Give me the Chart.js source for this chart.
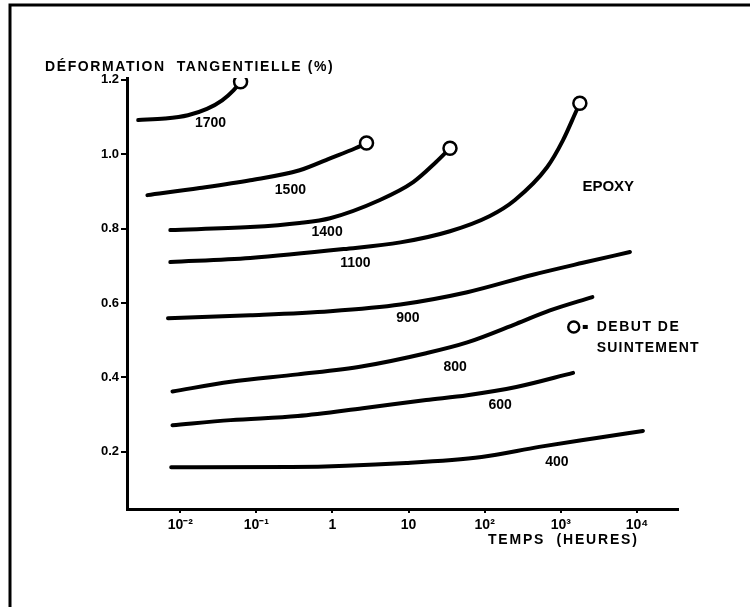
<!DOCTYPE html>
<html>
<head>
<meta charset="utf-8">
<script src="https://cdn.jsdelivr.net/npm/chart.js@4"></script>
<style>
  html, body { margin: 0; padding: 0; background: #fff; }
  #wrap { position: relative; width: 750px; height: 607px; }
</style>
</head>
<body>
<div id="wrap"><canvas id="myChart"></canvas></div>
<script>
// stress levels (curve labels)
var stressLabels = ["1700", "1500", "1400", "1100", "900", "800", "600", "400"];

// time (hours) and shear strain (%)
var t1700 = [0.0028, 0.0063, 0.0126, 0.0224, 0.0355, 0.050, 0.062];
var s1700 = [1.092, 1.096, 1.105, 1.122, 1.145, 1.172, 1.195];
var t1500 = [0.0037, 0.018, 0.083, 0.37, 0.93, 2.0, 2.8];
var s1500 = [0.890, 0.909, 0.930, 0.957, 0.989, 1.016, 1.030];
var t1400 = [0.0074, 0.083, 0.37, 0.93, 4.2, 11.5, 23, 35];
var s1400 = [0.796, 0.804, 0.815, 0.828, 0.877, 0.925, 0.979, 1.016];
var t1100 = [0.0074, 0.083, 1.4, 7.8, 35, 117, 250, 660, 1070, 1620, 1780];
var s1100 = [0.710, 0.721, 0.745, 0.763, 0.793, 0.834, 0.877, 0.965, 1.038, 1.119, 1.137];
var t900 = [0.0069, 0.083, 0.93, 7.8, 59, 430, 1950, 8100];
var s900 = [0.559, 0.567, 0.578, 0.596, 0.629, 0.676, 0.708, 0.737];
var t800 = [0.0079, 0.046, 0.35, 2.5, 17, 59, 260, 720, 2600];
var s800 = [0.362, 0.388, 0.408, 0.430, 0.465, 0.494, 0.544, 0.580, 0.616];
var t600 = [0.0079, 0.046, 0.35, 2.5, 17, 59, 260, 1450];
var s600 = [0.271, 0.285, 0.296, 0.317, 0.339, 0.352, 0.374, 0.412];
var t400 = [0.0076, 0.29, 9.3, 91, 520, 2950, 12000];
var s400 = [0.158, 0.159, 0.170, 0.186, 0.213, 0.237, 0.256];

// "debut de suintement" (start of seepage) points
var seepTimes = [0.062, 2.8, 35, 1780];
var seepStrain = [1.195, 1.030, 1.016, 1.137];

// axis ticks
var xTickValues = [0.01, 0.1, 1, 10, 100, 1000, 10000];
var xTickLabels = ["10\u207B\u00B2", "10\u207B\u00B9", "1", "10", "10\u00B2", "10\u00B3", "10\u2074"];
var yTickValues = [0.2, 0.4, 0.6, 0.8, 1.0, 1.2];
var yTickLabels = ["0.2", "0.4", "0.6", "0.8", "1.0", "1.2"];

// where the curve labels sit (time, strain)
var labelTimes = [0.025, 0.28, 0.85, 2.0, 9.8, 41, 160, 890];
var labelStrain = [1.083, 0.903, 0.790, 0.707, 0.559, 0.427, 0.326, 0.172];

var curveTimes = [t1700, t1500, t1400, t1100, t900, t800, t600, t400];
var curveStrain = [s1700, s1500, s1400, s1100, s900, s800, s600, s400];

function pts(xs, ys) {
  return xs.map(function (x, i) { return { x: x, y: ys[i] }; });
}

var FONT = "'Liberation Sans', Arial, sans-serif";
Chart.defaults.font.family = FONT;
Chart.defaults.color = "#000";

var datasets = curveTimes.map(function (xs, i) {
  return {
    label: stressLabels[i],
    data: pts(xs, curveStrain[i]),
    borderColor: "#000",
    borderWidth: 4,
    pointRadius: 0,
    fill: false,
    cubicInterpolationMode: "monotone",
    borderCapStyle: "round",
    order: 1
  };
});
datasets.push({
  label: "DEBUT DE SUINTEMENT",
  type: "scatter",
  data: pts(seepTimes, seepStrain),
  pointRadius: 6.5,
  pointBorderWidth: 2.5,
  pointBorderColor: "#000",
  pointBackgroundColor: "#fff",
  order: 0
});

function spaced(c, text, x, y, sp) {
  c.letterSpacing = sp + "px";
  c.fillText(text, x, y);
  c.letterSpacing = "0px";
}

var annotations = {
  id: "annotations",
  afterDatasetsDraw: function (chart) {
    var c = chart.ctx, xs = chart.scales.x, ys = chart.scales.y;
    c.save();
    c.fillStyle = "#000";
    c.textBaseline = "middle";
    c.textAlign = "center";
    c.font = "bold 14px " + FONT;
    stressLabels.forEach(function (lab, i) {
      c.fillText(lab, xs.getPixelForValue(labelTimes[i]), ys.getPixelForValue(labelStrain[i]));
    });
    c.font = "bold 15px " + FONT;
    c.fillText("EPOXY", xs.getPixelForValue(4200), ys.getPixelForValue(0.912));

    // legend for the open circle
    var lx = xs.getPixelForValue(1480), ly = ys.getPixelForValue(0.5355);
    c.beginPath();
    c.arc(lx, ly, 5.5, 0, Math.PI * 2);
    c.lineWidth = 2.5;
    c.strokeStyle = "#000";
    c.stroke();
    c.fillRect(lx + 9, ly - 2, 5, 4);
    c.textAlign = "left";
    c.font = "bold 14px " + FONT;
    spaced(c, "DEBUT DE", lx + 23, ly, 1.5);
    spaced(c, "SUINTEMENT", lx + 23, ly + 21, 1.2);

    // axis titles
    c.font = "bold 14px " + FONT;
    spaced(c, "D\u00C9FORMATION  TANGENTIELLE (%)", 45, 67, 1.6);
    spaced(c, "TEMPS  (HEURES)", 488, 540, 1.8);

    // page frame
    c.lineWidth = 3;
    c.beginPath();
    c.moveTo(10, 607);
    c.lineTo(10, 5);
    c.lineTo(750, 5);
    c.stroke();
    c.restore();
  }
};

var ctx = document.getElementById("myChart");

var myChart = new Chart(ctx, {
  type: "line",
  data: { datasets: datasets },
  options: {
    responsive: true,
    maintainAspectRatio: false,
    animation: false,
    layout: { padding: { top: 78, right: 72, bottom: 0, left: 0 } },
    plugins: {
      legend: { display: false },
      tooltip: { enabled: false }
    },
    scales: {
      x: {
        type: "logarithmic",
        min: Math.pow(10, -2.7),
        max: Math.pow(10, 4.54),
        afterBuildTicks: function (s) {
          s.ticks = xTickValues.map(function (v) { return { value: v }; });
        },
        afterFit: function (s) { s.height = 98; },
        ticks: {
          autoSkip: false,
          maxRotation: 0,
          padding: 4,
          font: { size: 14, weight: "bold" },
          callback: function (v) {
            var i = xTickValues.indexOf(v);
            return i >= 0 ? xTickLabels[i] : "";
          }
        },
        grid: { drawOnChartArea: false, drawTicks: true, tickLength: 4, color: "#000", lineWidth: 2 },
        border: { display: true, color: "#000", width: 3 }
      },
      y: {
        type: "linear",
        min: 0.046,
        max: 1.205,
        afterBuildTicks: function (s) {
          s.ticks = yTickValues.map(function (v) { return { value: v }; });
        },
        afterFit: function (s) { s.width = 127; },
        ticks: {
          padding: 2,
          font: { size: 13, weight: "bold" },
          callback: function (v) {
            var i = yTickValues.findIndex(function (t) { return Math.abs(t - v) < 1e-6; });
            return i >= 0 ? yTickLabels[i] : "";
          }
        },
        grid: { drawOnChartArea: false, drawTicks: true, tickLength: 6, color: "#000", lineWidth: 2 },
        border: { display: true, color: "#000", width: 3 }
      }
    }
  },
  plugins: [annotations]
});
</script>
</body>
</html>
